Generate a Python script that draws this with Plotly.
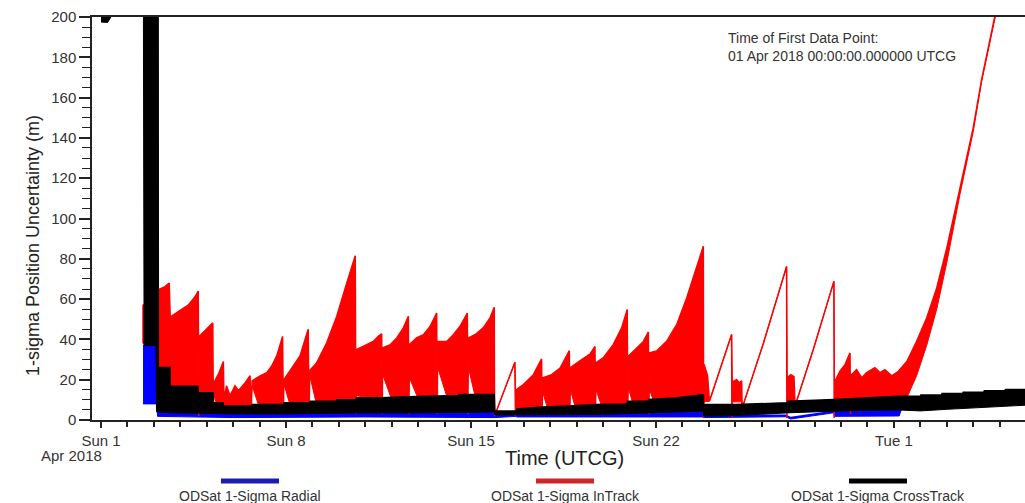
import numpy as np
import pandas as pd
import plotly.graph_objects as go

# ---------------- data (days after 01 Apr 2018 00:00 UTCG, metres) ----------------
epoch = "2018-04-01"

# ODSat 1-Sigma InTrack  (upper / lower envelope of the oscillating trace)
intrack_hi_day = [1.59, 1.59, 1.75, 2.16, 2.22, 2.40, 2.58,
                  2.62, 2.95, 3.30, 3.55, 3.68,
                  3.70, 3.72, 4.23,
                  4.25, 4.27, 4.45, 4.63,
                  4.66, 4.68, 4.75, 4.88, 5.07, 5.20, 5.45, 5.64,
                  5.68, 5.72, 6.02, 6.27, 6.46, 6.65, 6.87,
                  6.90, 6.92, 7.28, 7.53, 7.84,
                  7.87, 7.90, 8.16, 8.54, 8.92, 9.30, 9.62,
                  9.64, 9.67, 10.05, 10.30, 10.49, 10.62,
                  10.64, 10.66, 10.95, 11.19, 11.44, 11.63,
                  11.65, 11.67, 11.94, 12.20, 12.45, 12.70,
                  12.72, 12.74, 13.08, 13.33, 13.58, 13.86,
                  13.88, 13.90, 14.15, 14.46, 14.72, 14.88,
                  14.89, 15.66,
                  15.68, 15.70, 15.98, 16.36, 16.67,
                  16.69, 16.71, 17.05, 17.37, 17.72,
                  17.74, 17.76, 18.12, 18.50, 18.69,
                  18.71, 18.73, 19.00, 19.38, 19.70, 19.91,
                  19.93, 19.95, 20.27, 20.52, 20.71,
                  20.73, 20.75, 21.02, 21.40, 21.78, 22.16, 22.54, 22.79,
                  22.80, 22.82, 22.95, 23.00, 23.02, 23.86,
                  23.87, 23.90, 24.05, 24.15, 24.24, 24.26, 25.06, 25.94,
                  25.95, 25.97, 26.10, 26.22, 26.26, 26.95, 27.73,
                  27.74, 27.76, 27.96, 28.15, 28.34,
                  28.36, 28.40, 28.59, 28.78, 28.97, 29.28, 29.47, 29.66, 29.92, 30.17,
                  30.49, 30.86, 31.24, 31.62, 32.00, 32.50, 33.00, 33.32, 33.82, 34.10]
intrack_hi_m = [38, 57, 58, 62, 65, 66, 68,
                51, 54, 57, 61, 64,
                2, 41.5, 48.2,
                3, 18.4, 23, 29,
                3, 12, 17, 12, 17, 14.5, 18.4, 22,
                3, 19.4, 21.9, 23.5, 26.8, 31.8, 41.5,
                3, 20, 26.8, 31.8, 45,
                3, 24.6, 28.4, 38.3, 51.5, 68, 81.5,
                3, 35, 37.4, 39, 41.5, 42.8,
                3, 35.8, 37.4, 40.7, 45.7, 51.5,
                3, 37.4, 40.7, 42.3, 46.4, 53.1,
                3, 39, 39, 42.3, 46.4, 53.1,
                3, 40.7, 42.3, 45.7, 50.7, 55.9,
                2, 28.6,
                2, 15, 17.6, 22.5, 30.3,
                3, 21, 22.5, 25.8, 34.4,
                3, 26, 29.4, 32.7, 36.5,
                3, 28.4, 30.8, 37.4, 45.7, 54.8,
                3, 31.6, 35.8, 39, 43.7,
                3, 33.3, 34.2, 39, 47.3, 60.6, 75.4, 86.2,
                1, 27.5, 22, 10, 9.3, 42.4,
                1, 19, 20, 18.5, 19.5, 6, 38, 76.2,
                1, 21, 22.5, 21.5, 7, 35, 68.8,
                1, 19, 24.2, 27.5, 33.3,
                3, 22.5, 25, 21, 23.5, 26, 23.5, 25, 21.9, 24.2,
                29, 39, 50.6, 65.5, 85.3, 115, 145, 169, 200, 218]

intrack_lo_day = [1.59, 2.15, 2.17, 3.70,
                  3.72, 4.23,
                  4.27, 4.40, 4.63,
                  4.68, 5.64,
                  5.72, 5.97, 6.87,
                  6.92, 7.15, 7.84,
                  7.90, 8.15, 9.62,
                  9.67, 10.62,
                  10.66, 11.00, 11.63,
                  11.67, 12.00, 12.70,
                  12.74, 13.10, 13.86,
                  13.90, 14.15, 14.88,
                  14.89, 15.66,
                  15.70, 16.67,
                  16.71, 16.90, 17.72,
                  17.76, 17.95, 18.69,
                  18.73, 18.95, 19.91,
                  19.95, 20.15, 20.71,
                  20.75, 20.95, 22.79,
                  22.82, 23.00, 23.02, 23.86,
                  23.90, 24.24, 24.26, 25.06, 25.94,
                  25.97, 26.22, 26.26, 26.95, 27.73,
                  27.76, 28.34,
                  28.40, 30.17, 30.49, 30.86, 31.24, 31.62, 32.00, 32.50, 33.00, 33.32, 33.82, 34.10]
intrack_lo_m = [38, 38, 15, 14,
                13, 12,
                12, 7, 7,
                7, 6,
                17, 7, 7,
                18, 7.5, 7.5,
                22, 8, 9,
                12, 10,
                22.5, 10, 10.5,
                21, 10.5, 11,
                26, 11, 11.5,
                26, 12, 12,
                2, 28.6,
                5, 5,
                14, 5.5, 5.5,
                15, 6, 6.5,
                15, 6.5, 7,
                16, 7, 8,
                15, 8, 9,
                9, 9, 9.3, 42.4,
                9, 9, 6, 38, 76.2,
                9, 9, 7, 35, 68.8,
                8, 8,
                8, 8, 11, 22, 37, 55, 78, 112, 143, 168, 199, 217]

# ODSat 1-Sigma CrossTrack
crosstrack_hi_day = [0.0, 1.63, 2.16, 2.17, 2.61, 2.62, 3.67, 3.68, 4.24, 4.25, 4.62, 4.63,
                     5.70, 5.72, 6.90, 6.92, 7.90, 7.92, 8.90, 8.92, 9.65, 9.67, 10.60,
                     11.60, 12.70, 13.50, 13.60, 14.88,
                     14.90, 15.72, 15.74, 16.70, 17.70, 18.70, 19.90, 19.92, 20.70, 20.72,
                     21.80, 22.79,
                     22.80, 24.00, 25.94, 26.00, 27.73, 30.20, 31.00, 31.02, 31.80, 31.82,
                     32.60, 32.62, 33.40, 33.42, 34.20, 34.22, 35.20]
crosstrack_hi_m = [230, 230, 230, 26, 26, 16.8, 16.8, 13.5, 13.5, 8.5, 8.5, 7,
                   7, 7.7, 7.7, 8.5, 8.5, 9.3, 9.3, 10, 10, 11, 11,
                   11.5, 11.8, 12.2, 12.6, 12.6,
                   4.5, 4.5, 5.5, 6.5, 7, 7.7, 8, 9.3, 9.3, 10.2,
                   11, 12.6,
                   7.7, 7.7, 8.5, 9.3, 10.2, 11.8, 11.8, 12.4, 12.4, 13.1,
                   13.1, 13.8, 13.8, 14.5, 14.5, 15.1, 15.1]
crosstrack_lo_day = [0.0, 0.25, 0.42, 0.60, 1.60, 1.63, 2.08, 2.10, 2.60, 5.00, 7.00, 9.65,
                     12.00, 14.88,
                     14.90, 15.72, 16.70, 18.70, 20.70, 22.79,
                     22.80, 24.00, 26.07, 28.00, 30.20, 31.00, 32.00, 33.00, 34.00, 35.20]
crosstrack_lo_m = [197.5, 197.3, 201, 230, 230, 37, 37, 4, 3.6, 3, 3, 3.5,
                   3.5, 4,
                   2.5, 2.5, 2.5, 2.7, 3.5, 4.4,
                   1.9, 2.2, 3.6, 4.5, 5, 4.5, 5.3, 6, 6.8, 7.5]

# ODSat 1-Sigma Radial
radial_hi_day = [1.59, 2.12, 2.14, 5.00, 10.00, 14.88, 14.90, 15.70, 15.72, 22.79,
                 22.80, 25.90, 26.10, 27.73, 27.75, 30.20, 30.30, 35.20]
radial_hi_m = [37, 37, 6, 5, 6, 6, 2.5, 3, 5, 7,
               2.2, 2.4, 1.2, 4.4, 5.5, 5.5, 6.5, 9]
radial_lo_day = [1.59, 2.12, 2.14, 5.00, 10.00, 14.88, 14.90, 15.70, 15.72, 22.79,
                 22.80, 25.90, 26.10, 27.73, 27.75, 30.20, 30.30, 35.20]
radial_lo_m = [8, 8, 1.8, 1.2, 1.5, 1.5, 1.2, 1.8, 1.5, 1.5,
               1.2, 1.6, 0.5, 3.6, 1.8, 2.0, 6.0, 8.5]

# axis ticks
tick_days = [0, 7, 14, 21, 30]
tick_text = ["Sun 1", "Sun 8", "Sun 15", "Sun 22", "Tue 1"]
series_names = ["ODSat 1-Sigma Radial", "ODSat 1-Sigma InTrack", "ODSat 1-Sigma CrossTrack"]
series_colors = ["#0000ff", "#ff0000", "#000000"]
legend_colors = ["#1c1cb4", "#c82828", "#000000"]

# ---------------- figure ----------------
base = pd.Timestamp(epoch)


def to_time(days):
    return base + pd.to_timedelta(np.asarray(days, dtype=float), unit="D")


W, H = 1025, 503
ML, MR, MT, MB = 92, 0, 17, 83
PW, PH = W - ML - MR, H - MT - MB


def px(xp):
    return (xp - ML) / PW


def py(yp):
    return (H - MB - yp) / PH


fig = go.Figure()
pairs = [
    (radial_lo_day, radial_lo_m, radial_hi_day, radial_hi_m),
    (intrack_lo_day, intrack_lo_m, intrack_hi_day, intrack_hi_m),
    (crosstrack_lo_day, crosstrack_lo_m, crosstrack_hi_day, crosstrack_hi_m),
]
for (ld, lm, hd, hm), name, col in zip(pairs, series_names, series_colors):
    fig.add_trace(go.Scatter(x=to_time(ld), y=lm, mode="lines",
                             line=dict(color=col, width=1), showlegend=False,
                             hoverinfo="skip"))
    fig.add_trace(go.Scatter(x=to_time(hd), y=hm, mode="lines", name=name,
                             line=dict(color=col, width=1.5), fill="tonexty",
                             fillcolor=col, showlegend=False))

x0 = base + pd.Timedelta(days=(ML - 101) / 26.43)
x1 = base + pd.Timedelta(days=(W - MR - 101) / 26.43)

font = "Liberation Sans, Arial, sans-serif"
fig.update_layout(
    width=W, height=H,
    margin=dict(l=ML, r=MR, t=MT, b=MB),
    paper_bgcolor="white", plot_bgcolor="white",
    font=dict(family=font, color="#222222"),
    xaxis=dict(
        type="date", range=[x0, x1],
        tickmode="array", tickvals=to_time(tick_days), ticktext=tick_text,
        ticks="outside", ticklen=6, tickwidth=1.5, tickcolor="#222222",
        tickfont=dict(size=15, family=font, color="#333333"),
        showline=True, linecolor="#222222", linewidth=1.5, mirror=True,
        showgrid=False, zeroline=False,
        minor=dict(tickmode="linear", tick0=epoch, dtick=86400000,
                   ticks="outside", ticklen=5, tickwidth=1.5, tickcolor="#222222",
                   showgrid=False),
    ),
    yaxis=dict(
        range=[0, 200], dtick=20, tick0=0,
        ticks="outside", ticklen=11, tickwidth=1.5, tickcolor="#222222",
        tickfont=dict(size=15, family=font, color="#333333"),
        showline=True, linecolor="#222222", linewidth=1.5,
        showgrid=False, zeroline=False,
        minor=dict(dtick=5, ticks="outside", ticklen=8, tickwidth=1.2,
                   tickcolor="#222222", showgrid=False),
    ),
)

ann = []
ann.append(dict(text="Apr 2018", xref="paper", yref="paper", x=px(104), y=py(455),
                xanchor="right", yanchor="middle", showarrow=False,
                font=dict(size=15, family=font, color="#333333")))
ann.append(dict(text="Time (UTCG)", xref="paper", yref="paper", x=px(564), y=py(458),
                xanchor="center", yanchor="middle", showarrow=False,
                font=dict(size=20, family=font, color="#222222")))
ann.append(dict(text="1-sigma Position Uncertainty (m)", xref="paper", yref="paper",
                x=px(33), y=py(246), xanchor="center", yanchor="middle", textangle=-90,
                showarrow=False, font=dict(size=18, family=font, color="#222222")))
ann.append(dict(text="Time of First Data Point:<br>01 Apr 2018 00:00:00.000000 UTCG",
                xref="paper", yref="paper", x=px(726), y=py(28), xanchor="left",
                yanchor="top", align="left", showarrow=False,
                font=dict(size=14, family=font, color="#333333")))

legend_centers = [250, 565, 878]
shapes = []
for cx, name, lc in zip(legend_centers, series_names, legend_colors):
    shapes.append(dict(type="line", xref="paper", yref="paper",
                       x0=px(cx - 29), x1=px(cx + 29), y0=py(481), y1=py(481),
                       line=dict(color=lc, width=5)))
    ann.append(dict(text=name, xref="paper", yref="paper", x=px(cx), y=py(496),
                    xanchor="center", yanchor="middle", showarrow=False,
                    font=dict(size=14, family=font, color="#333333")))

fig.update_layout(annotations=ann, shapes=shapes)
fig.write_html("out.html", config={"displayModeBar": False})

# remove the browser's default page margin so the figure fills the window exactly
with open("out.html", "r", encoding="utf-8") as fh:
    page = fh.read()
page = page.replace("<body>", '<body style="margin:0;padding:0;overflow:hidden">', 1)
with open("out.html", "w", encoding="utf-8") as fh:
    fh.write(page)
